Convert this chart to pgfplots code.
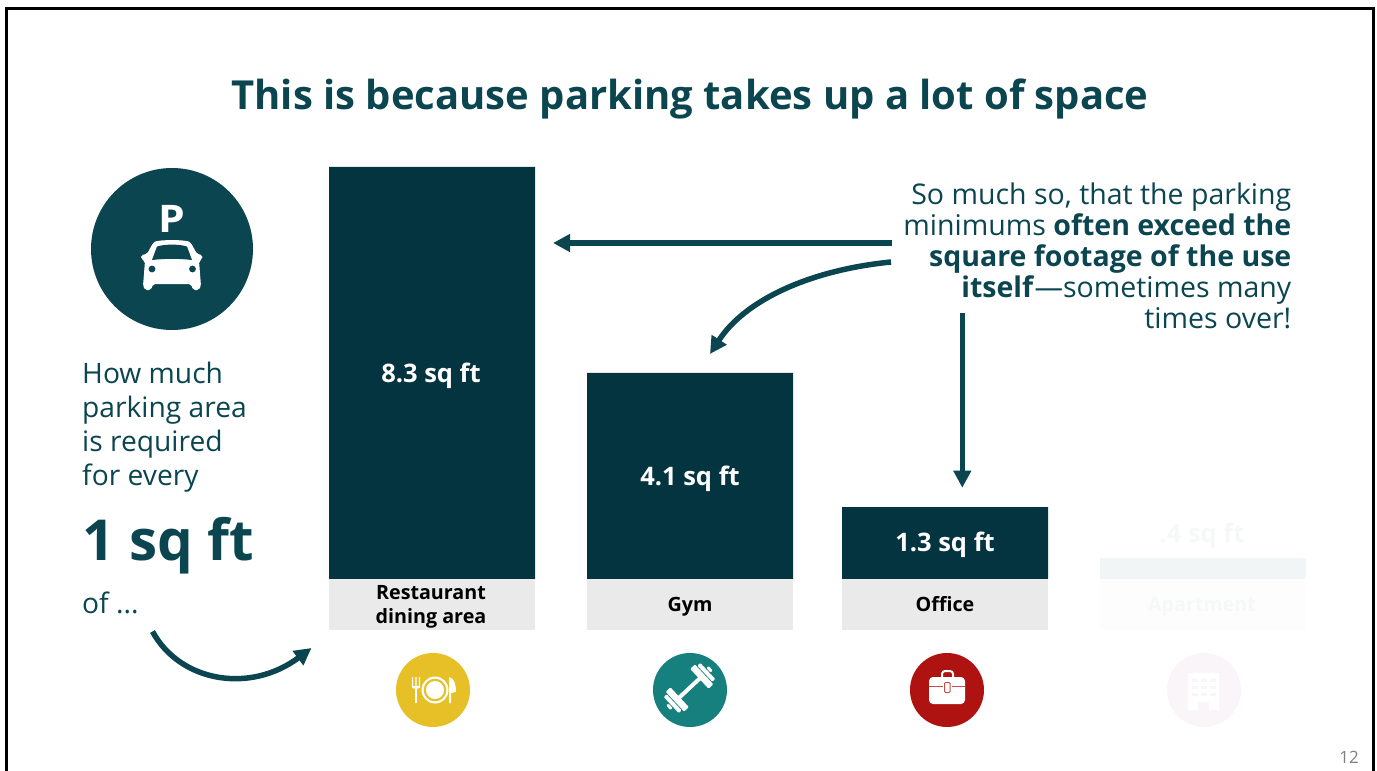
\documentclass[border=0pt]{standalone}
\usepackage{fontspec}
\setmainfont{Open Sans}
\usepackage{pgfplots}
\pgfplotsset{compat=1.18}
\usetikzlibrary{arrows.meta}
\definecolor{teal1}{HTML}{0A4550}
\definecolor{bar1}{HTML}{04343F}
\definecolor{box1}{HTML}{EAEAEA}
\definecolor{food}{HTML}{E6C026}
\definecolor{gym}{HTML}{16807F}
\definecolor{office}{HTML}{AE1311}
\definecolor{apt}{HTML}{F9F5F9}
\definecolor{aptbar}{HTML}{F1F5F6}
\definecolor{apttext}{HTML}{F6F8F8}
\definecolor{aptbox}{HTML}{FDFDFD}
\newcommand{\fs}[1]{\fontsize{#1}{#1}\selectfont}
\begin{document}
\begin{tikzpicture}[x=1pt,y=-1pt,
  lbl/.style={anchor=base,inner sep=0pt,font=\fs{19.7}\bfseries},
  val/.style={anchor=base,inner sep=0pt,font=\fs{25.5}\bfseries},
  ln/.style={anchor=base west,inner sep=0pt,text=teal1,font=\fs{28.2}},
  rn/.style={anchor=base east,inner sep=0pt,text=teal1,font=\fs{28.5}},
  arr/.style={draw=teal1,line width=5.5pt,-{Triangle[length=17pt,width=17pt,fill=teal1]}}]
\path[use as bounding box] (0,0) rectangle (1377,771);
\begin{axis}[at={(0,0)},anchor=north west,scale only axis,width=1377pt,height=771pt,
  xmin=0,xmax=1377,ymin=-3.868,ymax=11.664,hide axis,clip=false]
\addplot[ybar,bar width=206,bar shift=0pt,fill=bar1,draw=none] coordinates {(432,8.3) (690,4.15) (945,1.45)};
\addplot[ybar,bar width=206,bar shift=0pt,fill=aptbar,draw=none] coordinates {(1202.5,0.42)};
\end{axis}
% frame
\draw[black,line width=2.8pt] (6.4,780) -- (6.4,8.4) -- (1373.4,8.4) -- (1373.4,780);
% title
\node[anchor=base,inner sep=0pt,text=teal1,font=\fs{40}\bfseries] at (690,109.5) {This is because parking takes up a lot of space};
% parking badge
\fill[teal1] (172,249) circle[radius=81];
\node[anchor=base,inner sep=0pt,text=white,font=\fs{38}\bfseries,xscale=1.12] at (172,232) {P};
\fill[white,rounded corners=2pt] (147,254) -- (153,243) .. controls (158,239.5) and (186,239.5) .. (191,243) -- (197,254) -- (202.5,255) -- (202.5,259) -- (199,261) -- (201,286) -- (199,290) -- (193,290) -- (191,284) -- (153,284) -- (151,290) -- (145,290) -- (143,286) -- (145,261) -- (141,259) -- (141,255) -- cycle;
\fill[teal1] (152,260) -- (157,246.5) .. controls (165,244) and (179,244) .. (187,246.5) -- (192,260) .. controls (180,258.5) and (164,258.5) .. (152,260) -- cycle;
\fill[teal1] (152,269) circle[radius=3.4] (192.5,269) circle[radius=3.4];
% left text
\node[ln] at (82,383.5) {How much};
\node[ln] at (82,417.5) {parking area};
\node[ln] at (82,451.5) {is required};
\node[ln] at (82,485.5) {for every};
\node[anchor=base west,inner sep=0pt,text=teal1,font=\fs{56.5}\bfseries] at (82,560) {1 sq ft};
\node[ln] at (82,613) {of ...};
\draw[arr] (152.5,631.5) .. controls (180,682) and (250,694) .. (311.5,648);
% category boxes
\fill[box1] (329,579) rectangle (535,630);
\fill[box1] (587,579) rectangle (793,630);
\fill[box1] (842,579) rectangle (1048,630);
\fill[aptbox] (1099,579) rectangle (1306,630);
\node[lbl] at (431,599) {Restaurant};
\node[lbl] at (431,623) {dining area};
\node[lbl] at (690,611) {Gym};
\node[lbl] at (945,611) {Office};
\node[lbl,text=apttext] at (1202,611) {Apartment};
% value labels
\node[val,text=white] at (431,382) {8.3 sq ft};
\node[val,text=white] at (690,485) {4.1 sq ft};
\node[val,text=white] at (945,551) {1.3 sq ft};
\node[val,text=apttext] at (1202,542) {.4 sq ft};
% right text
\node[rn] at (1291.5,204) {So much so, that the parking};
\node[rn] at (1291.5,235) {minimums \textbf{often exceed the}};
\node[rn] at (1291.5,266) {\textbf{square footage of the use}};
\node[rn] at (1291.5,297) {\textbf{itself}—sometimes many};
\node[rn] at (1291.5,328) {times over!};
% arrows
\draw[arr] (892,243) -- (553,243);
\draw[arr] (891,262) .. controls (810,270) and (745,300) .. (710,354);
\draw[arr] (962.3,312.7) -- (962.3,487.7);
% food icon
\fill[food] (433,690) circle[radius=37];
\fill[white] (435,690) circle[radius=13.5];
\fill[food] (435,690) circle[radius=11.3];
\fill[white] (435,690) circle[radius=9];
\fill[white] (412,677) rectangle (413.2,688) (415.4,677) rectangle (416.6,688) (418.8,677) rectangle (420,688);
\fill[white] (412,686) .. controls (412,690) and (420,690) .. (420,686) -- cycle;
\fill[white] (415,688) rectangle (417,703);
\fill[white] (449,677) .. controls (454,678) and (456,684) .. (456,692) -- (451,693) -- (451,703) -- (449,703) -- cycle;
% gym icon
\fill[gym] (690,690) circle[radius=37];
\begin{scope}[shift={(689.5,688)},rotate=43]
\fill[white] (-14,-2) rectangle (14,2);
\fill[white,rounded corners=1pt] (-20,-13.5) rectangle (-13.5,13.5);
\fill[white,rounded corners=1pt] (-25,-11) rectangle (-21,11);
\fill[white,rounded corners=1pt] (-29,-3) rectangle (-26,3);
\fill[white,rounded corners=1pt] (13.5,-13.5) rectangle (20,13.5);
\fill[white,rounded corners=1pt] (21,-11) rectangle (25,11);
\fill[white,rounded corners=1pt] (26,-3) rectangle (29,3);
\end{scope}
% office icon
\fill[office] (947,690) circle[radius=37];
\draw[white,line width=2pt,rounded corners=3pt] (942,679) -- (942,671) -- (953,671) -- (953,679);
\fill[white,rounded corners=4pt] (929,677) rectangle (965,704);
\fill[office!75!white] (929,685.7) rectangle (965,687.2);
\fill[white] (943,681.5) rectangle (951.5,693.5);
\draw[office!75!white,line width=1pt,rounded corners=1pt] (944.5,682.5) rectangle (950,692.5);
% apartment icon
\fill[apt] (1204,690) circle[radius=37];
\fill[white] (1188,673) rectangle (1219,710);
\fill[apt] (1198,702) rectangle (1209,710);
\foreach \r in {678.5,685.5,692.5} {\foreach \c in {1192,1201,1210} {\fill[apt] (\c,\r) rectangle +(6,3);}}
% page number
\node[anchor=base east,inner sep=0pt,text=black!50,font=\fs{17}] at (1359,763) {12};
\end{tikzpicture}
\end{document}
